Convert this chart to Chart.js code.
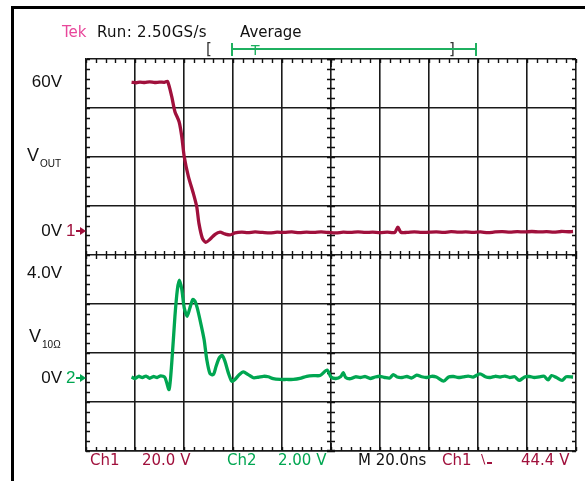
<!DOCTYPE html>
<html>
<head>
<meta charset="utf-8">
<script src="https://cdn.jsdelivr.net/npm/chart.js@4"></script>
<style>
  html, body { margin:0; padding:0; background:#fff; }
  #wrap { position:relative; width:585px; height:481px; overflow:hidden; background:#fff; }
  canvas { position:absolute; left:0; top:0; }
  .t { position:absolute; white-space:nowrap; font-family:"DejaVu Sans", sans-serif; font-size:15px; line-height:16px; color:#111; }
  .l { position:absolute; white-space:nowrap; font-family:"Liberation Sans", Arial, sans-serif; color:#111; }
  .frameTop { position:absolute; left:11px; top:6px; width:580px; height:3px; background:#000; }
  .frameLeft { position:absolute; left:11px; top:6px; width:3px; height:480px; background:#000; }
  .arr { position:absolute; height:2px; }
  .head { position:absolute; width:0; height:0; border-top:4px solid transparent; border-bottom:4px solid transparent; }
</style>
</head>
<body>
<div id="wrap">
  <div class="frameTop"></div>
  <div class="frameLeft"></div>
  <canvas id="c" width="585" height="481"></canvas>

  <div class="t" style="left:62px;top:24px;color:#e8479b;">Tek</div>
  <div class="t" style="left:97px;top:24px;letter-spacing:0.3px;">Run: 2.50GS/s</div>
  <div class="t" style="left:240px;top:24px;">Average</div>
  <div class="t" style="left:206px;top:41px;color:#333;">[</div>
  <div class="t" style="left:449px;top:41px;color:#333;">]</div>
  <div style="position:absolute;left:232px;top:48px;width:244px;height:1.5px;background:#1fb060;"></div>
  <div style="position:absolute;left:231px;top:43px;width:1.5px;height:13px;background:#1fb060;"></div>
  <div style="position:absolute;left:475px;top:43px;width:1.5px;height:13px;background:#1fb060;"></div>
  <div class="t" style="left:251px;top:43px;color:#1fb060;font-size:14px;line-height:14px;">T</div>

  <div class="l" style="left:0;width:62px;text-align:right;top:72px;font-size:17px;line-height:20px;">60V</div>
  <div class="l" style="left:27px;top:145px;font-size:18px;line-height:20px;">V<span style="font-size:10px;position:relative;top:6px;left:1px;">OUT</span></div>
  <div class="l" style="left:0;width:62px;text-align:right;top:221px;font-size:17px;line-height:20px;">0V</div>
  <div class="l" style="left:66px;top:221px;font-size:17px;line-height:20px;color:#a0103c;">1</div>
  <div class="arr" style="left:76px;top:230px;width:5px;background:#a0103c;"></div>
  <div class="head" style="left:80px;top:227px;border-left:6px solid #a0103c;"></div>
  <div class="l" style="left:0;width:62px;text-align:right;top:263px;font-size:17px;line-height:20px;">4.0V</div>
  <div class="l" style="left:29px;top:326px;font-size:18px;line-height:20px;">V<span style="font-size:10px;position:relative;top:6px;left:1px;">10Ω</span></div>
  <div class="l" style="left:0;width:62px;text-align:right;top:368px;font-size:17px;line-height:20px;">0V</div>
  <div class="l" style="left:66px;top:368px;font-size:17px;line-height:20px;color:#00a651;">2</div>
  <div class="arr" style="left:76px;top:377px;width:5px;background:#00a651;"></div>
  <div class="head" style="left:80px;top:374px;border-left:6px solid #00a651;"></div>

  <div class="t" style="left:90px;top:452px;color:#a0103c;">Ch1</div>
  <div class="t" style="left:142px;top:452px;color:#a0103c;">20.0 V</div>
  <div class="t" style="left:227px;top:452px;color:#00a651;">Ch2</div>
  <div class="t" style="left:278px;top:452px;color:#00a651;">2.00 V</div>
  <div class="t" style="left:358px;top:452px;color:#111;">M 20.0ns</div>
  <div class="t" style="left:442px;top:452px;color:#a0103c;">Ch1</div>
  <div class="t" style="left:481px;top:451px;color:#a0103c;font-size:13px;">\</div>
  <div style="position:absolute;left:487px;top:462px;width:5px;height:1.5px;background:#a0103c;"></div>
  <div class="t" style="left:521px;top:452px;color:#a0103c;">44.4 V</div>
</div>
<script>
// ---- data (time in ns, volts) ----
const ch1Time = [18.6,20.5,22,24,26,28,30,32,33.3,35.0,36.3,38.0,39.1,40.1,41.8,43.8,45.2,46.1,47.5,48.9,50.6,52.7,54.7,56.7,58.8,60.8,63.6,
  66,69,72,75,78,81,84,87,90,93,96,99,102,105,108,111,114,117,120,123,126,127.3,128.5,131,134,137,140,143,146,149,152,155,158,161,164,167,170,173,176,179,182,185,188,191,194,197,198.8];
const ch1Volts = [60.5,60.3,60.6,60.4,60.7,60.4,60.6,60.5,60.8,54.6,48.5,44.4,38.3,30.1,22.0,15.2,9.7,2.9,-3.2,-4.8,-3.6,-1.55,-0.7,-1.4,-1.8,-1.0,-0.7,
  -0.9,-0.6,-0.8,-1.0,-0.7,-0.8,-0.6,-0.9,-0.7,-0.8,-0.6,-0.8,-1.0,-0.7,-0.8,-0.6,-0.8,-0.7,-0.9,-0.7,-0.8,1.4,-0.7,-0.8,-0.6,-0.8,-0.7,-0.6,-0.8,-0.5,-0.7,-0.6,-0.8,-0.6,-0.9,-0.6,-0.5,-0.7,-0.5,-0.6,-0.4,-0.6,-0.5,-0.7,-0.4,-0.5,-0.4];

const ch2Time = [18.6,20,21.5,23,24.5,26,27.5,29,30.5,32.2,33.9,35.0,36.3,37.3,38.1,39.1,40.1,41.3,42.4,43.6,44.5,45.4,46.8,48.2,49.3,50.6,52.0,53.1,54.4,55.6,56.7,58.1,59.5,60.8,62.6,64.2,66.2,68.3,70.3,72.4,74.4,76.4,79.2,81.9,84.6,87.3,90.1,92.8,95.5,98.4,
  100,102,104,105,106,108,110,112,114,116,118,120,122,124,125.4,127,129,131,133,135,137,139,141,143,146,148,150,152,154,156,158,160.8,163,165,167,169,171,173,175,176.8,179,181,183,185,187,188.6,190,192,194.3,196,198.8];
const ch2Volts = [0.02,-0.04,0.05,0.0,0.06,-0.03,0.04,0.0,0.07,0.0,-0.49,0.6,2.5,3.59,3.97,3.59,2.84,2.5,2.84,3.18,3.11,2.84,2.23,1.55,0.73,0.16,0.12,0.46,0.8,0.9,0.67,0.19,-0.15,-0.08,0.12,0.23,0.12,-0.01,0.01,0.05,0.03,-0.05,-0.08,-0.08,-0.08,-0.04,0.05,0.08,0.08,0.3,
  0.02,-0.04,0.04,0.2,0.0,-0.05,0.03,0.0,0.04,-0.04,0.02,0.05,0.0,-0.02,0.12,0.02,0.0,0.04,-0.02,0.1,0.03,0.0,0.05,0.02,-0.15,0.02,0.04,0.0,0.03,0.06,0.02,0.15,0.03,0.0,0.05,0.02,0.06,0.0,0.03,-0.12,0.02,0.04,0.0,0.03,0.05,-0.1,0.08,0.0,-0.12,0.03,0.02];

// scope settings
const timeRange = [0, 200];      // 10 div x 20 ns
const ch1Range = [-90, 70];      // 20 V/div, zero 3.5 div from top
const ch2Range = [-3, 13];       // 2 V/div, zero 6.5 div from top
const divRange = [0, 8];

const ch1Color = '#a0103c';
const ch2Color = '#00a651';

const zip = (xs, ys) => xs.map((x, i) => ({x, y: ys[i]}));

const minorTicks = {
  id: 'minorTicks',
  beforeDatasetsDraw(chart) {
    const {ctx} = chart;
    const x = chart.scales.x, yg = chart.scales.yg;
    const L = x.getPixelForValue(timeRange[0]), R = x.getPixelForValue(timeRange[1]);
    const T = yg.getPixelForValue(divRange[1]), B = yg.getPixelForValue(divRange[0]);
    const cx = x.getPixelForValue(100), cy = yg.getPixelForValue(4);
    ctx.save();
    ctx.strokeStyle = '#111';
    ctx.lineWidth = 1.4;
    ctx.beginPath();
    for (let t = timeRange[0]; t <= timeRange[1] + 0.01; t += 4) {
      const px = Math.round(x.getPixelForValue(t)) + 0.5;
      ctx.moveTo(px, T); ctx.lineTo(px, T + 4);
      ctx.moveTo(px, B); ctx.lineTo(px, B - 4);
      ctx.moveTo(px, cy - 4); ctx.lineTo(px, cy + 4);
    }
    for (let d = divRange[0]; d <= divRange[1] + 0.01; d += 0.2) {
      const py = Math.round(yg.getPixelForValue(d)) + 0.5;
      ctx.moveTo(L, py); ctx.lineTo(L + 4, py);
      ctx.moveTo(R, py); ctx.lineTo(R - 4, py);
      ctx.moveTo(cx - 4, py); ctx.lineTo(cx + 4, py);
    }
    ctx.stroke();
    ctx.lineWidth = 1.6;
    ctx.beginPath();
    ctx.moveTo(cx, T); ctx.lineTo(cx, T + 8);
    ctx.moveTo(cx - 4, T + 0.5); ctx.lineTo(cx + 4, T + 0.5);
    ctx.moveTo(cx, B); ctx.lineTo(cx, B - 8);
    ctx.moveTo(cx - 4, B - 0.5); ctx.lineTo(cx + 4, B - 0.5);
    ctx.stroke();
    ctx.restore();
  }
};

new Chart(document.getElementById('c'), {
  type: 'line',
  data: {
    datasets: [
      { label: 'VOUT', data: zip(ch1Time, ch1Volts), yAxisID: 'y1', borderColor: ch1Color, borderWidth: 3.3, pointRadius: 0, tension: 0.25, fill: false },
      { label: 'V10', data: zip(ch2Time, ch2Volts), yAxisID: 'y2', borderColor: ch2Color, borderWidth: 3.3, pointRadius: 0, tension: 0.25, fill: false }
    ]
  },
  options: {
    responsive: false,
    animation: false,
    devicePixelRatio: 1,
    layout: { padding: { left: 86, top: 59, right: 9, bottom: 30 } },
    plugins: { legend: { display: false }, tooltip: { enabled: false }, title: { display: false } },
    scales: {
      x: {
        type: 'linear', min: timeRange[0], max: timeRange[1],
        ticks: { display: false, stepSize: 20 },
        grid: { color: '#1a1a1a', lineWidth: 1.6, drawTicks: false },
        border: { display: true, color: '#1a1a1a', width: 1.6 }
      },
      yg: {
        type: 'linear', position: 'left', min: divRange[0], max: divRange[1],
        ticks: { display: false, stepSize: 1 },
        grid: { color: '#1a1a1a', lineWidth: 1.6, drawTicks: false },
        border: { display: true, color: '#1a1a1a', width: 1.6 }
      },
      y1: { type: 'linear', display: false, min: ch1Range[0], max: ch1Range[1] },
      y2: { type: 'linear', display: false, min: ch2Range[0], max: ch2Range[1] }
    }
  },
  plugins: [minorTicks]
});
</script>
</body>
</html>
